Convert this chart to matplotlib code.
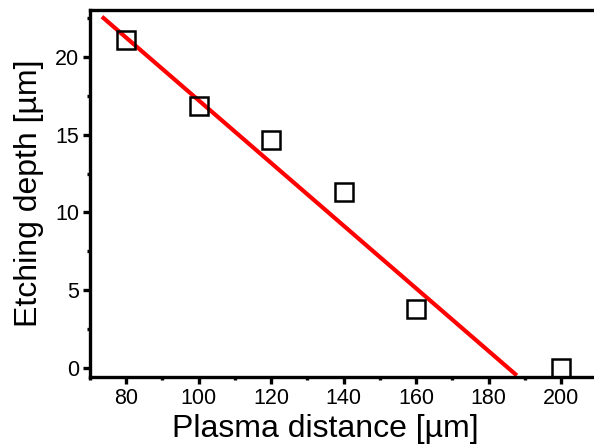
import matplotlib
matplotlib.use("Agg")
import matplotlib.pyplot as plt
from matplotlib.ticker import MultipleLocator

plt.rcParams["font.family"] = ["Liberation Sans", "DejaVu Sans"]

# measured points
distance = [80, 100, 120, 140, 160, 200]
depth = [21.1, 16.85, 14.65, 11.3, 3.8, 0.0]

# linear fit line (endpoints)
fit_x = [73.3, 187.8]
fit_y = [22.6, -0.5]

fig = plt.figure(figsize=(5.94, 4.46), dpi=100)
ax = fig.add_axes([0.1515, 0.1547, 0.854, 0.8218])

ax.plot(fit_x, fit_y, color="red", linewidth=3.0, solid_capstyle="butt", zorder=2)
ax.plot(distance, depth, linestyle="none", marker="s", markersize=12.5,
        markerfacecolor="none", markeredgecolor="black", markeredgewidth=1.8,
        zorder=3, clip_on=False)

ax.set_xlim(70, 210)
ax.set_ylim(-0.6, 23)
ax.xaxis.set_major_locator(MultipleLocator(20))
ax.xaxis.set_minor_locator(MultipleLocator(10))
ax.yaxis.set_major_locator(MultipleLocator(5))
ax.yaxis.set_minor_locator(MultipleLocator(2.5))

for side in ["left", "bottom", "top"]:
    ax.spines[side].set_linewidth(2.4)
ax.spines["right"].set_visible(False)

ax.tick_params(which="major", direction="out", length=5, width=2.4,
               labelsize=15.5, pad=3)
ax.tick_params(which="minor", direction="out", length=2.5, width=2.4)

ax.set_xlabel("Plasma distance [µm]", fontsize=23)
ax.xaxis.set_label_coords(0.4645, -0.102)
ax.set_ylabel("Etching depth [µm]", fontsize=23, labelpad=8)

fig.savefig("out.png", dpi=100)
